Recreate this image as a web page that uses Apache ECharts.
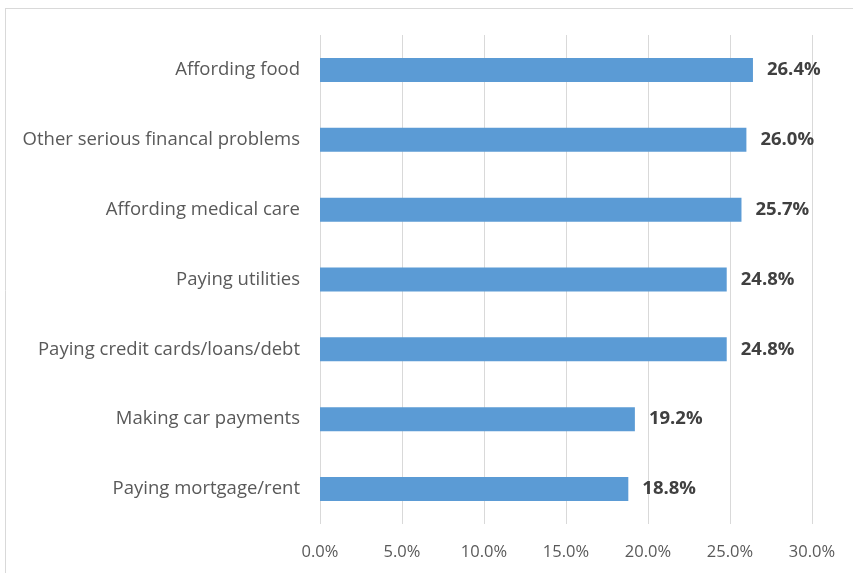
<!DOCTYPE html>
<html>
<head>
<meta charset="utf-8">
<script src="https://cdn.jsdelivr.net/npm/echarts@6/dist/echarts.min.js"></script>
<style>
html, body { margin: 0; padding: 0; background: #fff; }
#chart { width: 853px; height: 573px; }
</style>
</head>
<body>
<div id="chart"></div>
<script>
// categories bottom -> top (yAxis category order)
var categories = ['Paying mortgage/rent', 'Making car payments', 'Paying credit cards/loans/debt',
	'Paying utilities', 'Affording medical care', 'Other serious financal problems', 'Affording food'];
var values = [18.8, 19.2, 24.8, 24.8, 25.7, 26.0, 26.4];
var xTicks = [0, 5, 10, 15, 20, 25, 30];

var chart = echarts.init(document.getElementById('chart'));
var option = {
	animation: false,
	textStyle: { fontFamily: 'Open Sans' },
	graphic: [
		{ type: 'line', shape: { x1: 5, y1: 8.5, x2: 853, y2: 8.5 }, style: { stroke: '#d9d9d9', lineWidth: 1 } },
		{ type: 'line', shape: { x1: 5.5, y1: 8, x2: 5.5, y2: 573 }, style: { stroke: '#d9d9d9', lineWidth: 1 } }
	],
	grid: { left: 320, right: 41, top: 35, bottom: 49 },
	xAxis: {
		type: 'value',
		min: xTicks[0],
		max: xTicks[xTicks.length - 1],
		interval: 5,
		axisLine: { show: false },
		axisTick: { show: false },
		splitLine: { lineStyle: { color: '#d9d9d9', width: 1 } },
		axisLabel: {
			color: '#595959',
			fontSize: 16.5,
			margin: 20,
			formatter: function (v) { return v.toFixed(1) + '%'; }
		}
	},
	yAxis: {
		type: 'category',
		data: categories,
		axisLine: { show: false },
		axisTick: { show: false },
		axisLabel: { color: '#595959', fontSize: 18.5, margin: 20 }
	},
	series: [{
		type: 'bar',
		data: values,
		barWidth: 24,
		itemStyle: { color: '#5b9bd5' },
		label: {
			show: true,
			position: 'right',
			distance: 14,
			color: '#404040',
			fontSize: 18.5,
			fontWeight: 'bold',
			formatter: function (p) { return p.value.toFixed(1) + '%'; }
		}
	}]
};
chart.setOption(option);
</script>
</body>
</html>
